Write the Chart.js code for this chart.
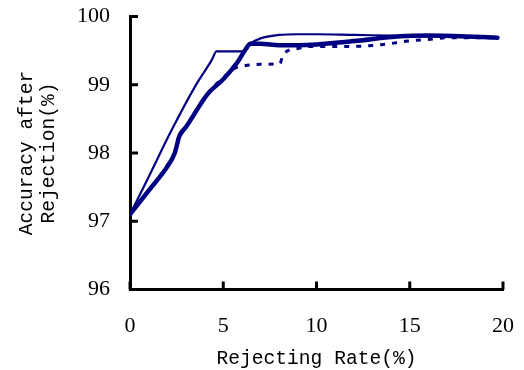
<!DOCTYPE html>
<html>
<head>
<meta charset="utf-8">
<script src="https://cdn.jsdelivr.net/npm/chart.js@4"></script>
<style>
  html, body { margin: 0; padding: 0; background: #fff; }
  #wrap { width: 524px; height: 370px; }
</style>
</head>
<body>
<div id="wrap"><canvas id="chart" width="524" height="370"></canvas></div>
<script>
// values
const thinX = [0, 1, 2.24, 3.5, 4.38, 4.64, 6.1, 6.45, 7, 8, 9, 10, 12, 14, 16, 19.7]
const thinY = [97.1, 97.65, 98.34, 98.98, 99.36, 99.49, 99.49, 99.6, 99.68, 99.73, 99.74, 99.74, 99.73, 99.72, 99.71, 99.69]

const thickX = [0, 1, 2, 2.4, 2.65, 3, 4.18, 5, 5.79, 6.2, 6.45, 7, 8, 9, 10, 12, 14.5, 16, 19.7]
const thickY = [97.1, 97.45, 97.8, 98.0, 98.25, 98.38, 98.87, 99.08, 99.34, 99.52, 99.6, 99.6, 99.58, 99.58, 99.59, 99.64, 99.71, 99.72, 99.69]

const dashX = [0, 1, 2, 2.4, 2.65, 3, 4.18, 5, 5.6, 6, 7, 8.04, 8.2, 9, 9.5, 11.6, 13.6, 14.9, 16.3, 17, 19.7]
const dashY = [97.1, 97.45, 97.82, 98.0, 98.22, 98.38, 98.88, 99.1, 99.24, 99.27, 99.3, 99.31, 99.44, 99.53, 99.56, 99.56, 99.59, 99.64, 99.67, 99.69, 99.69]

const xTicks = [0, 5, 10, 15, 20]
const yTicks = [96, 97, 98, 99, 100]

const navy = '#000080'

function pts(xs, ys) {
  return xs.map((x, i) => ({x: x, y: ys[i]}))
}

// ticks point into the plot, so draw them here
const innerTicks = {
  id: 'innerTicks',
  afterDraw(chart) {
    const ctx = chart.ctx
    const xs = chart.scales.x
    const ys = chart.scales.y
    ctx.save()
    ctx.strokeStyle = '#000'
    ctx.lineWidth = 3
    xTicks.forEach(v => {
      const px = xs.getPixelForValue(v)
      ctx.beginPath()
      ctx.moveTo(px, ys.bottom)
      ctx.lineTo(px, ys.bottom - 8)
      ctx.stroke()
    })
    yTicks.forEach(v => {
      const py = ys.getPixelForValue(v)
      ctx.beginPath()
      ctx.moveTo(xs.left, py)
      ctx.lineTo(xs.left + 8, py)
      ctx.stroke()
    })
    ctx.restore()
  }
}

const tickFont = {family: 'Liberation Serif', size: 22}
const titleFont = {family: 'Liberation Mono', size: 19.6, lineHeight: 1.12}

new Chart(document.getElementById('chart'), {
  type: 'scatter',
  data: {
    datasets: [
      {
        data: pts(dashX, dashY),
        showLine: true,
        borderColor: navy,
        borderWidth: 3,
        borderDash: [5, 7],
        pointRadius: 0,
        cubicInterpolationMode: 'monotone'
      },
      {
        data: pts(thinX, thinY),
        showLine: true,
        borderColor: navy,
        borderWidth: 2.2,
        pointRadius: 0,
        cubicInterpolationMode: 'monotone'
      },
      {
        data: pts(thickX, thickY),
        showLine: true,
        borderColor: navy,
        borderWidth: 4.5,
        borderCapStyle: 'round',
        pointRadius: 0,
        cubicInterpolationMode: 'monotone'
      }
    ]
  },
  options: {
    responsive: false,
    animation: false,
    layout: {padding: {left: 0, right: 21, top: 16.5, bottom: 0}},
    plugins: {
      legend: {display: false},
      tooltip: {enabled: false}
    },
    scales: {
      x: {
        type: 'linear',
        min: 0,
        max: 20,
        afterBuildTicks: s => { s.ticks = xTicks.map(v => ({value: v})) },
        afterFit: s => {
          s.height = 80.5
          s.paddingLeft = 0
          s.paddingRight = 0
        },
        grid: {display: false, drawTicks: false},
        border: {display: true, color: '#000', width: 3},
        ticks: {color: '#000', font: tickFont, padding: 24, maxRotation: 0},
        title: {
          display: true,
          text: 'Rejecting Rate(%)',
          color: '#000',
          font: titleFont,
          padding: {top: 4, bottom: 0}
        }
      },
      y: {
        type: 'linear',
        min: 96,
        max: 100,
        afterBuildTicks: s => { s.ticks = yTicks.map(v => ({value: v})) },
        afterFit: s => {
          s.width = 130
          s.paddingTop = 0
          s.paddingBottom = 0
        },
        grid: {display: false, drawTicks: false},
        border: {display: true, color: '#000', width: 3},
        ticks: {color: '#000', font: tickFont, padding: 20},
        title: {
          display: true,
          text: ['Accuracy after', 'Rejection(%)'],
          color: '#000',
          font: titleFont,
          padding: {top: 16, bottom: 0}
        }
      }
    }
  },
  plugins: [innerTicks]
})
</script>
</body>
</html>
